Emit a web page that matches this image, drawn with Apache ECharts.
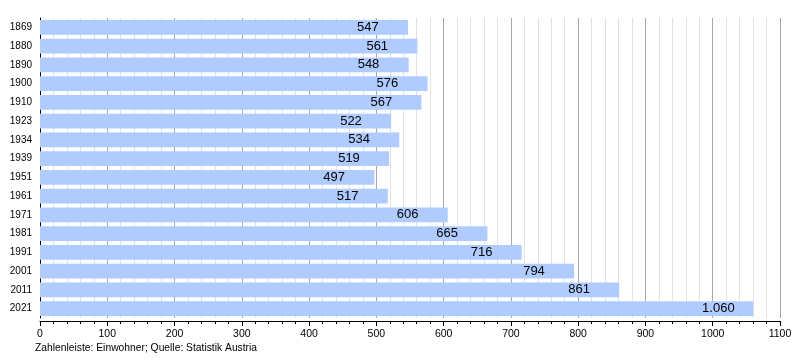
<!DOCTYPE html>
<html>
<head>
<meta charset="utf-8">
<script src="https://cdn.jsdelivr.net/npm/echarts@6/dist/echarts.min.js"></script>
<style>
html,body{margin:0;padding:0;background:#fff;}
#chart{width:800px;height:360px;}
</style>
</head>
<body>
<div id="chart"></div>
<script>
const categories = ['1869','1880','1890','1900','1910','1923','1934','1939','1951','1961','1971','1981','1991','2001','2011','2021'];
const population = [547,561,548,576,567,522,534,519,497,517,606,665,716,794,861,1060];
const footnote = 'Zahlenleiste: Einwohner; Quelle: Statistik Austria';

function fmt(v){
  return String(v).replace(/\B(?=(\d{3})+(?!\d))/g, '.');
}

const FONT = '"Liberation Sans", Arial, sans-serif';
const chart = echarts.init(document.getElementById('chart'), null, {renderer:'canvas'});
chart.setOption({
  animation:false,
  backgroundColor:'#ffffff',
  textStyle:{fontFamily:FONT},
  grid:{left:40, right:20, top:18, height:300, containLabel:false},
  xAxis:{
    type:'value', min:0, max:1100, interval:100, offset:3,
    axisLine:{show:true, lineStyle:{color:'#000', width:1}},
    axisTick:{show:true, length:5, lineStyle:{color:'#000'}},
    minorTick:{show:true, splitNumber:5, length:3, lineStyle:{color:'#000'}},
    splitLine:{show:true, lineStyle:{color:'#a8a8a8', width:1}},
    minorSplitLine:{show:true, lineStyle:{color:'#e2e2e2', width:1}},
    axisLabel:{color:'#000', fontSize:10.5, fontFamily:FONT, margin:8, formatter:v=>String(v)}
  },
  yAxis:{
    type:'category', data:categories, inverse:true,
    axisLine:{show:true, lineStyle:{color:'#000', width:1}},
    axisTick:{show:false},
    axisLabel:{color:'#000', fontSize:10, fontFamily:FONT, margin:8},
    splitLine:{show:false}
  },
  series:[{
    type:'bar', data:population, barWidth:14.7,
    itemStyle:{color:'#b0ccff'},
    label:{
      show:true, position:['100%','50%'], offset:[-51,0], align:'left', verticalAlign:'middle',
      color:'#000', fontSize:13, fontFamily:FONT,
      formatter:p=>fmt(p.value)
    }
  }],
  graphic:[{
    type:'text', left:35, top:343,
    style:{text:footnote, fill:'#000', font:'10.3px '+FONT}
  }]
});
</script>
</body>
</html>
